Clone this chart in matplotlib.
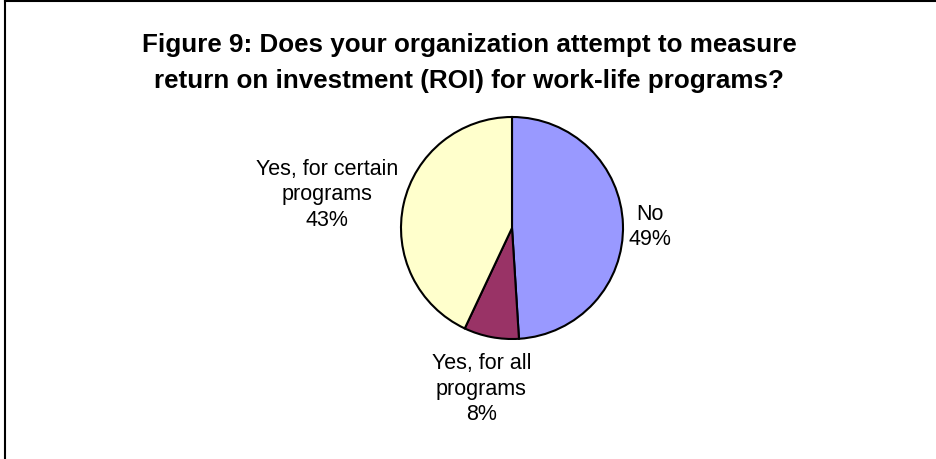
import matplotlib
matplotlib.use("Agg")
import matplotlib.pyplot as plt
import numpy as np
from matplotlib.lines import Line2D

plt.rcParams['font.family'] = ['Liberation Sans', 'DejaVu Sans']

# Survey responses
categories = ["No", "Yes, for all\nprograms", "Yes, for certain\nprograms"]
shares = [49, 8, 43]
colors = ["#9999FF", "#993366", "#FFFFCC"]
label_dist = [1.24, 1.47, 1.71]
label_lift = [-0.02, 0.0, -0.065]

W, H = 937, 460
fig = plt.figure(figsize=(W / 100, H / 100), dpi=100)

# Pie placement in pixels
cx, cy, r = 512, H - 229, 111
hx, hy = 2.5, 1.9
ax = fig.add_axes([(cx - hx * r) / W, (cy - hy * r) / H, 2 * hx * r / W, 2 * hy * r / H])
wedges, _ = ax.pie(shares, colors=colors, startangle=90, counterclock=False,
                   radius=1.0, wedgeprops=dict(edgecolor="black", linewidth=1.5))
ax.set_xlim(-hx, hx)
ax.set_ylim(-hy, hy)
ax.set_aspect("auto")
ax.axis("off")

for w, cat, val, d, lift in zip(wedges, categories, shares, label_dist, label_lift):
    ang = np.deg2rad((w.theta1 + w.theta2) / 2)
    ax.text(d * np.cos(ang), d * np.sin(ang) + lift, f"{cat}\n{val}%",
            ha="center", va="center", fontsize=15.5, linespacing=1.28)

fig.text(469 / W, 1 - 63 / H,
         "Figure 9: Does your organization attempt to measure\n"
         "return on investment (ROI) for work-life programs?",
         ha="center", va="center", fontsize=18.7, fontweight="bold", linespacing=1.6)

# Frame around the chart area
fig.add_artist(Line2D([4.5 / W, 4.5 / W], [0, 1 - 1.5 / H], transform=fig.transFigure,
                      color="black", linewidth=1.5))
fig.add_artist(Line2D([4.5 / W, 1], [1 - 1.5 / H, 1 - 1.5 / H], transform=fig.transFigure,
                      color="black", linewidth=1.5))

fig.savefig("out.png", dpi=100)
